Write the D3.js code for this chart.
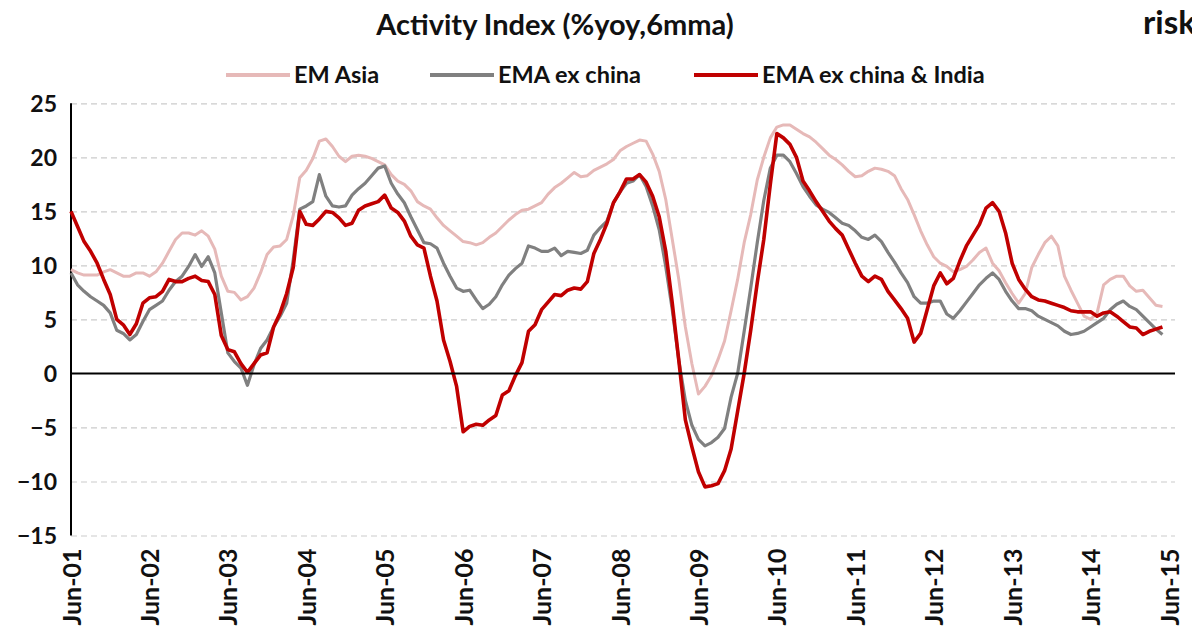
<!DOCTYPE html>
<html><head><meta charset="utf-8">
<script src="https://cdn.jsdelivr.net/npm/d3@7"></script>
<style>
html,body{margin:0;padding:0;background:#fff;overflow:hidden;}
svg text{font-family:Lato,"Open Sans",sans-serif;font-weight:bold;fill:#111;}
</style></head>
<body><svg id="c" width="1192" height="641"></svg>
<script>
// Monthly data, Jun-01 .. May-15
const tickYears = ["Jun-01","Jun-02","Jun-03","Jun-04","Jun-05","Jun-06","Jun-07","Jun-08","Jun-09","Jun-10","Jun-11","Jun-12","Jun-13","Jun-14","Jun-15"];
const yTicks = [-15,-10,-5,0,5,10,15,20,25];
const seriesNames = ["EM Asia","EMA ex china","EMA ex china & India"];

const emAsia = [
 9.6,9.3,9.1,9.1,9.1,9.4,9.6,9.3,9.0,9.0,
 9.3,9.3,9.0,9.4,10.2,11.3,12.4,13.0,13.0,12.8,
 13.2,12.7,11.5,9.0,7.6,7.5,6.8,7.1,7.9,9.3,
 11.0,11.7,11.8,12.4,14.6,18.1,18.8,19.9,21.5,21.7,
 21.0,20.1,19.6,20.1,20.2,20.1,19.9,19.6,19.3,18.4,
 17.8,17.5,16.9,15.9,15.5,15.2,14.4,13.7,13.2,12.7,
 12.2,12.1,11.9,12.1,12.6,13.0,13.6,14.2,14.7,15.1,
 15.2,15.5,15.8,16.6,17.2,17.6,18.1,18.6,18.2,18.3,
 18.8,19.1,19.4,19.8,20.6,21.0,21.3,21.6,21.5,20.3,
 18.7,16.1,12.4,8.7,4.3,0.9,-1.9,-1.2,-0.2,1.3,
 3.0,5.8,8.7,12.1,14.7,17.9,20.0,21.8,22.8,23.0,
 23.0,22.6,22.2,21.9,21.4,20.8,20.2,19.8,19.3,18.7,
 18.2,18.3,18.7,19.0,18.9,18.7,18.3,17.1,16.1,14.7,
 13.2,11.9,10.8,10.2,9.9,9.4,9.6,9.9,10.5,11.2,
 11.6,10.2,9.5,8.4,7.4,6.5,7.4,9.8,11.0,12.1,
 12.7,11.8,9.0,7.7,6.5,5.3,5.0,5.6,8.2,8.7,
 9.0,9.0,8.1,7.6,7.7,7.0,6.3,6.2
];
const emaExChina = [
 9.3,8.2,7.6,7.1,6.7,6.3,5.6,4.0,3.7,3.1,
 3.6,4.8,5.9,6.3,6.7,7.7,8.5,9.0,9.9,11.0,
 9.9,10.8,9.3,5.6,1.9,1.1,0.5,-1.1,0.8,2.3,
 3.1,4.3,5.3,6.5,10.5,15.2,15.5,15.9,18.4,16.4,
 15.5,15.4,15.5,16.5,17.1,17.6,18.3,19.0,19.2,17.6,
 16.6,15.8,14.5,13.3,12.1,12.0,11.6,10.2,9.0,7.9,
 7.6,7.7,6.8,6.0,6.4,7.1,8.2,9.1,9.7,10.2,
 11.8,11.6,11.3,11.3,11.6,10.9,11.3,11.2,11.1,11.4,
 12.8,13.5,14.1,15.8,16.8,17.6,17.8,18.4,17.3,15.5,
 13.3,9.9,5.9,1.2,-2.5,-4.8,-6.1,-6.7,-6.4,-5.9,
 -5.1,-2.2,0.0,3.9,7.9,12.1,16.0,19.0,20.2,20.2,
 19.6,18.5,17.3,16.4,15.6,15.2,14.9,14.4,13.9,13.7,
 13.2,12.6,12.4,12.8,12.2,11.2,10.3,9.3,8.4,7.1,
 6.5,6.5,6.7,6.7,5.5,5.1,5.8,6.6,7.4,8.2,
 8.8,9.3,8.7,7.6,6.7,6.0,6.0,5.8,5.3,5.0,
 4.7,4.4,3.9,3.6,3.7,3.9,4.3,4.7,5.1,5.9,
 6.4,6.7,6.2,5.9,5.3,4.7,4.1,3.6
];
const emaExChinaIndia = [
 15.0,13.6,12.2,11.3,10.2,8.7,7.3,5.0,4.5,3.6,
 4.6,6.5,7.0,7.1,7.6,8.7,8.5,8.5,8.8,9.0,
 8.6,8.5,7.3,3.5,2.2,2.0,0.9,0.1,0.9,1.7,
 1.9,4.3,5.6,7.4,9.8,15.0,13.8,13.7,14.3,15.0,
 14.9,14.4,13.7,13.9,15.1,15.5,15.7,15.9,16.5,15.3,
 14.9,14.1,12.7,11.9,11.6,9.0,6.7,3.1,1.1,-1.2,
 -5.4,-4.9,-4.7,-4.8,-4.3,-3.9,-2.0,-1.6,-0.2,1.0,
 3.9,4.5,5.9,6.6,7.3,7.2,7.7,7.9,7.8,8.5,
 11.1,12.4,13.9,15.8,16.8,18.0,18.0,18.4,17.7,16.4,
 14.5,11.3,6.5,1.2,-4.3,-6.8,-9.1,-10.5,-10.4,-10.2,
 -9.0,-7.0,-3.5,0.0,4.0,8.4,12.4,17.5,22.2,21.8,
 21.2,20.0,17.8,16.9,15.9,15.0,14.1,13.4,12.8,11.5,
 10.2,9.0,8.5,9.0,8.7,7.6,6.8,6.0,5.1,2.9,
 3.7,5.9,8.1,9.3,8.3,8.8,10.4,11.8,12.8,13.8,
 15.3,15.8,15.0,13.0,10.2,8.7,7.8,7.1,6.8,6.7,
 6.5,6.3,6.1,5.8,5.7,5.7,5.7,5.3,5.6,5.7,
 5.3,4.8,4.3,4.2,3.6,3.9,4.1,4.3
];

(function(){
const colors = ["#E6B9B8","#808080","#C00000"];
const widths = [3,3.2,3.6];

const svg = d3.select("#c");
const pL = 71, pR = 1175, pT = 103.3, pB = 535.5;
const x = d3.scaleLinear().domain([0, 168]).range([pL, 1169]);
const y = d3.scaleLinear().domain([-15, 25]).range([pB, pT]);

// gridlines
const grid = svg.append("g").attr("transform", `translate(${pL},0)`)
  .call(d3.axisLeft(y).tickValues(yTicks.filter(v => v !== 0)).tickSize(-(pR-pL)).tickFormat(""));
grid.select(".domain").remove();
grid.selectAll("line").attr("stroke","#CCCCCC").attr("stroke-width",1.2).attr("stroke-dasharray","6,4");

// y labels
const yAx = svg.append("g").attr("transform", `translate(${pL-14},0)`)
  .call(d3.axisLeft(y).tickValues(yTicks).tickSize(0).tickFormat(d3.format("d")));
yAx.select(".domain").remove();
yAx.selectAll("text").attr("font-size",23).attr("dy","0.36em").attr("x",0);

// y axis line
svg.append("line").attr("x1",pL).attr("x2",pL).attr("y1",pT).attr("y2",pB)
  .attr("stroke","#000").attr("stroke-width",2);

// x labels
const xAx = svg.append("g").attr("transform", `translate(0,${pB})`)
  .call(d3.axisBottom(x).tickValues(tickYears.map((d,i)=>i*12)).tickSize(0).tickFormat((d,i)=>tickYears[i]));
xAx.select(".domain").remove();
xAx.selectAll("text").attr("font-size",25).attr("text-anchor","end")
  .attr("transform","rotate(-90)").attr("x",-13).attr("y",0).attr("dy","0.36em");

// series
const series = [emAsia, emaExChina, emaExChinaIndia];
const line = d3.line().x((d,i)=>x(i)).y(d=>y(d));
series.forEach((s,k)=>{
  svg.append("path").datum(s).attr("d",line).attr("fill","none")
    .attr("stroke",colors[k]).attr("stroke-width",widths[k]).attr("stroke-linejoin","round");
});

// zero line
svg.append("line").attr("x1",pL).attr("x2",pR).attr("y1",y(0)).attr("y2",y(0))
  .attr("stroke","#000").attr("stroke-width",2);

// title
svg.append("text").attr("x",555).attr("y",35).attr("text-anchor","middle")
  .attr("font-size",29).text("Activity Index (%yoy,6mma)");
svg.append("text").attr("x",1143).attr("y",34).attr("font-size",33).text("risk");

// legend
const legX = [226, 430, 694];
seriesNames.forEach((n,k)=>{
  svg.append("line").attr("x1",legX[k]).attr("x2",legX[k]+64).attr("y1",75).attr("y2",75)
    .attr("stroke",colors[k]).attr("stroke-width",4);
  svg.append("text").attr("x",legX[k]+68).attr("y",75).attr("dy","0.35em")
    .attr("font-size",23.5).text(n);
});
})();
</script></body></html>
